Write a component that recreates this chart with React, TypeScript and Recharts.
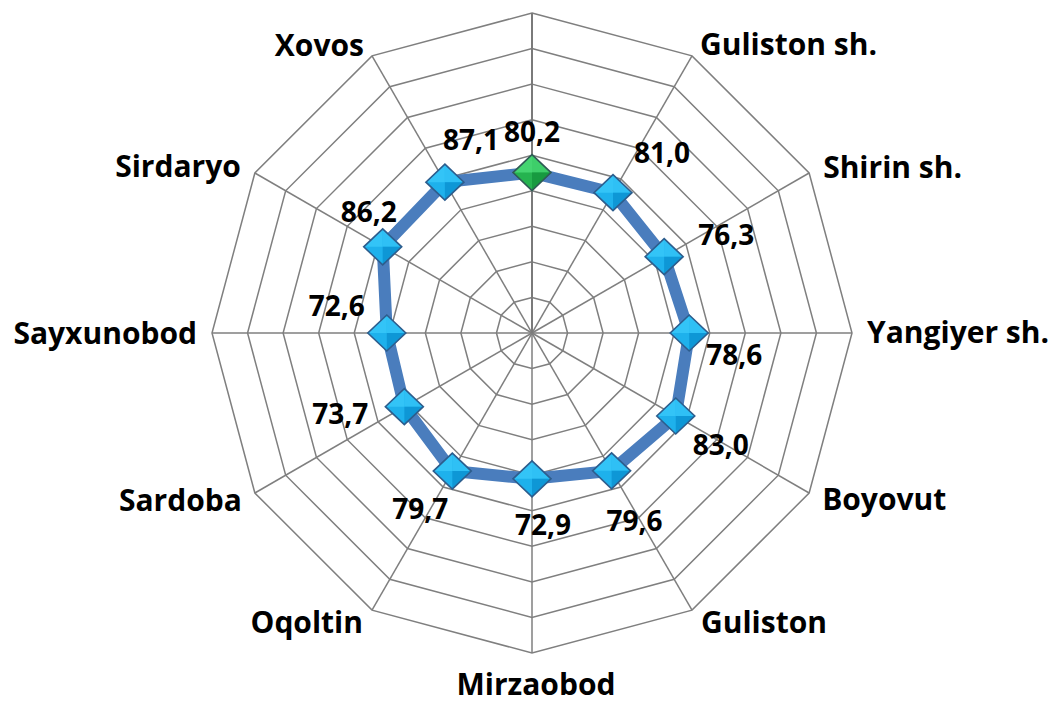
import React from 'react';
import {
  LabelList,
  PolarAngleAxis,
  PolarGrid,
  PolarRadiusAxis,
  Radar,
  RadarChart,
} from 'recharts';

// districts, clockwise from the top spoke (top label sits outside the frame)
const categories = [
  '',
  'Guliston sh.',
  'Shirin sh.',
  'Yangiyer sh.',
  'Boyovut',
  'Guliston',
  'Mirzaobod',
  'Oqoltin',
  'Sardoba',
  'Sayxunobod',
  'Sirdaryo',
  'Xovos',
];
const values = [80.2, 81.0, 76.3, 78.6, 83.0, 79.6, 72.9, 79.7, 73.7, 72.6, 86.2, 87.1];
const highlightIndex = 0;

const W = 1053;
const H = 704;
const CX = 532;
const CY = 333;
const R = 320;
const RINGS = 9;

const FONT = "'Open Sans', 'Liberation Sans', sans-serif";
const GRID = '#7f7f7f';
const LINE = '#4a7dbd';

// where each category label sits relative to its outer vertex
const catPos: [string, number, number][] = [
  ['middle', 0, -20],
  ['start', 8, -12],
  ['start', 14, -6],
  ['start', 15, -1],
  ['start', 13, 6],
  ['start', 9, 12],
  ['middle', 4, 31],
  ['end', -9, 12],
  ['end', -13, 7],
  ['end', -15, 0],
  ['end', -14, -7],
  ['end', -8, -11],
];

// data label offsets from the marker centre
const valPos: [number, number][] = [
  [0, -41],
  [49, -40],
  [62, -22],
  [45, 22],
  [45, 29],
  [23, 50],
  [11, 46],
  [-32, 38],
  [-64, 7],
  [-50, -27],
  [-14, -35],
  [26, -42],
];

const data = categories.map((name, i) => ({ name, value: values[i] }));
const ringRadii = Array.from({ length: RINGS + 1 }, (_, k) => (R * k) / RINGS);

const fmt = (v: number) => v.toFixed(1).replace('.', ',');

function CategoryTick(props: any) {
  const i = props.index ?? props.payload?.index ?? 0;
  const label = props.payload?.value ?? '';
  const a = ((90 - i * 30) * Math.PI) / 180;
  const vx = CX + R * Math.cos(a);
  const vy = CY - R * Math.sin(a);
  const [anchor, dx, dy] = catPos[i];
  return (
    <text
      x={vx + dx}
      y={vy + dy + 11}
      textAnchor={anchor as any}
      fontFamily={FONT}
      fontWeight={700}
      fontSize={30}
      fill="#000"
    >
      {label}
    </text>
  );
}

function DiamondDot(props: any) {
  const { cx, cy, index } = props;
  if (cx == null || cy == null) return null;
  const sx = 19;
  const sy = 18;
  const green = index === highlightIndex;
  const light = green ? '#45d571' : '#33c4f7';
  const mid = green ? '#25b34f' : '#1eb1ec';
  const dark = green ? '#179a40' : '#0e97d6';
  const edge = green ? '#2f5b55' : '#2d5d8d';
  const outline = `${cx},${cy - sy} ${cx + sx},${cy} ${cx},${cy + sy} ${cx - sx},${cy}`;
  return (
    <g key={`dot-${index}`}>
      <polygon points={outline} fill={mid} />
      <polygon points={`${cx},${cy - sy} ${cx},${cy} ${cx - sx},${cy}`} fill={light} />
      <polygon points={`${cx},${cy - sy} ${cx + sx},${cy} ${cx},${cy}`} fill={light} opacity={0.8} />
      <polygon points={`${cx},${cy + sy} ${cx + sx},${cy} ${cx},${cy}`} fill={dark} />
      <polygon points={outline} fill="none" stroke={edge} strokeWidth={1.6} />
    </g>
  );
}

function ValueLabel(props: any) {
  const x = props.x ?? props.viewBox?.x;
  const y = props.y ?? props.viewBox?.y;
  const i = props.index ?? 0;
  if (x == null || y == null) return null;
  const [dx, dy] = valPos[i];
  return (
    <text
      x={x + dx}
      y={y + dy + 10}
      textAnchor="middle"
      fontFamily={FONT}
      fontWeight={700}
      fontSize={28}
      fill="#000"
    >
      {fmt(Number(props.value))}
    </text>
  );
}

export default function App() {
  return (
    <div style={{ position: 'absolute', left: 0, top: 0, width: W, height: H, background: '#fff' }}>
      <RadarChart
        width={W}
        height={H}
        data={data}
        cx={CX}
        cy={CY}
        outerRadius={R}
        margin={{ top: 0, right: 0, bottom: 0, left: 0 }}
      >
        <PolarGrid gridType="polygon" polarRadius={ringRadii} stroke={GRID} strokeWidth={1.5} strokeOpacity={1} />
        <PolarAngleAxis dataKey="name" axisLine={false} tickLine={false} tick={<CategoryTick />} />
        <PolarRadiusAxis
          angle={90}
          domain={[0, 160]}
          tick={false}
          axisLine={{ stroke: '#7a7a7a', strokeWidth: 2 }}
        />
        <Radar
          dataKey="value"
          stroke={LINE}
          strokeWidth={12}
          strokeLinejoin="round"
          fill="none"
          fillOpacity={0}
          dot={(p: any) => <DiamondDot {...p} />}
          isAnimationActive={false}
        >
          <LabelList dataKey="value" content={(p: any) => <ValueLabel {...p} />} />
        </Radar>
      </RadarChart>
    </div>
  );
}
